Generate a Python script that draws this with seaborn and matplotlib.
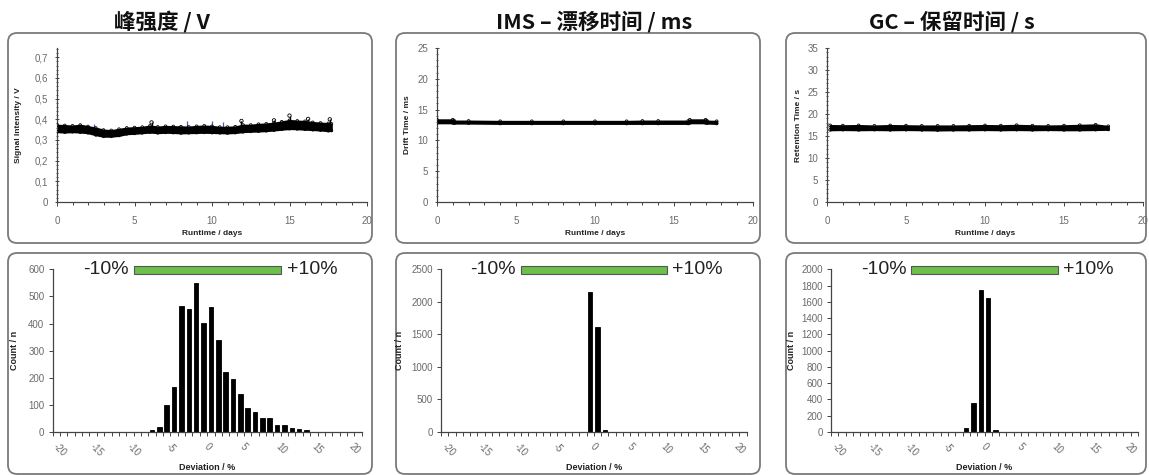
import matplotlib
matplotlib.use("Agg")
import matplotlib.pyplot as plt
import matplotlib.transforms as mtransforms
from matplotlib.patches import FancyBboxPatch, Rectangle
from matplotlib.ticker import MultipleLocator, FixedLocator, FuncFormatter
import seaborn as sns
import pandas as pd

# ---------------------------------------------------------------- data
titles = ["峰强度 / V", "IMS – 漂移时间 / ms", "GC – 保留时间 / s"]
runtime_ylabels = ["Signal Intensity / V", "Drift Time / ms", "Retention Time / s"]
runtime_xlabel = "Runtime / days"
deviation_xlabel = "Deviation / %"
count_ylabel = "Count / n"

# peak intensity, lower / upper edge of the scatter band over runtime
signal_days = [0.0, 0.5, 1.0, 1.5, 2.0, 2.5, 3.0, 3.5, 4.0, 4.5, 5.0, 5.5,
               6.0, 6.5, 7.0, 7.5, 8.0, 8.5, 9.0, 9.5, 10.0, 10.5, 11.0,
               11.5, 12.0, 12.5, 13.0, 13.5, 14.0, 14.5, 15.0, 15.5, 16.0,
               16.5, 17.0, 17.5, 17.7]
signal_low = [0.340, 0.338, 0.340, 0.338, 0.335, 0.325, 0.318, 0.318, 0.322,
              0.330, 0.332, 0.335, 0.338, 0.335, 0.337, 0.336, 0.334, 0.335,
              0.336, 0.337, 0.336, 0.335, 0.334, 0.336, 0.340, 0.342, 0.343,
              0.345, 0.348, 0.352, 0.355, 0.354, 0.352, 0.350, 0.348, 0.345,
              0.346]
signal_high = [0.372, 0.370, 0.368, 0.372, 0.365, 0.358, 0.348, 0.346, 0.352,
               0.358, 0.360, 0.362, 0.368, 0.363, 0.366, 0.365, 0.364, 0.363,
               0.366, 0.368, 0.366, 0.362, 0.362, 0.364, 0.372, 0.372, 0.376,
               0.378, 0.382, 0.388, 0.395, 0.392, 0.390, 0.385, 0.382, 0.380,
               0.378]
signal_peak_days = [6.1, 11.9, 14.0, 15.0, 16.2, 17.6]
signal_peak_vals = [0.385, 0.392, 0.395, 0.418, 0.402, 0.400]
signal_err_days = [2.4, 8.4, 10.0, 10.7, 11.9]
signal_err_tops = [0.378, 0.392, 0.392, 0.386, 0.390]

# drift time band
drift_days = [0.0, 1.0, 1.1, 2.0, 4.0, 6.0, 8.0, 10.0, 12.0, 13.0, 14.0,
              15.9, 16.0, 17.0, 17.1, 17.7]
drift_low = [12.85, 12.85, 12.80, 12.80, 12.75, 12.75, 12.75, 12.75, 12.75,
             12.75, 12.75, 12.75, 12.85, 12.85, 12.80, 12.75]
drift_high = [13.35, 13.35, 13.15, 13.15, 13.10, 13.10, 13.10, 13.10, 13.10,
              13.15, 13.15, 13.15, 13.35, 13.35, 13.15, 13.10]

# retention time band
retention_days = [0.2, 1.0, 2.0, 3.0, 4.0, 5.0, 6.0, 7.0, 8.0, 9.0, 10.0,
                  11.0, 12.0, 13.0, 14.0, 15.0, 16.0, 17.0, 17.8]
retention_low = [16.40, 16.45, 16.40, 16.45, 16.40, 16.45, 16.40, 16.35,
                 16.40, 16.40, 16.45, 16.40, 16.45, 16.40, 16.45, 16.40,
                 16.40, 16.45, 16.50]
retention_high = [17.40, 17.35, 17.40, 17.30, 17.40, 17.35, 17.30, 17.30,
                  17.30, 17.35, 17.40, 17.35, 17.45, 17.35, 17.30, 17.35,
                  17.45, 17.55, 17.20]

# deviation histograms (bin centre in %, count)
dev_signal = [-7.5, -6.5, -5.5, -4.5, -3.5, -2.5, -1.5, -0.5, 0.5, 1.5, 2.5,
              3.5, 4.5, 5.5, 6.5, 7.5, 8.5, 9.5, 10.5, 11.5, 12.5, 13.5]
cnt_signal = [6, 17, 100, 166, 465, 452, 550, 402, 462, 340, 222, 196, 140,
              90, 75, 50, 50, 25, 25, 15, 10, 7]
dev_drift = [-0.5, 0.5, 1.5]
cnt_drift = [2150, 1610, 30]
dev_retention = [-2.5, -1.5, -0.5, 0.5, 1.5]
cnt_retention = [55, 360, 1740, 1650, 28]

runtime_ylim = [0.745, 25, 35]
runtime_ystep = [0.1, 5, 5]
runtime_yminor = [0.02, 1, 1]
count_ylim = [600, 2500, 2000]
count_ystep = [100, 500, 200]
tolerance = (-10, 10)

# ---------------------------------------------------------------- style
sns.set_theme(style="ticks")
plt.rcParams["font.family"] = ["Liberation Sans", "DejaVu Sans"]
TICK_GREY = "#6a6a6a"
AXIS_COL = "#444444"

W, H = 1149, 475
fig = plt.figure(figsize=(W / 100, H / 100), dpi=100)


def px_axes(left, right, top, bottom):
    return fig.add_axes([left / W, 1 - bottom / H, (right - left) / W, (bottom - top) / H])


# rounded frames around each panel
frames_x = [(8, 372), (396, 760), (786, 1146)]
frames_y = [(33, 243), (253, 474)]
for (fx0, fx1) in frames_x:
    for (fy0, fy1) in frames_y:
        box = FancyBboxPatch((fx0, H - fy1), fx1 - fx0, fy1 - fy0,
                             boxstyle="round,pad=0,rounding_size=9",
                             transform=mtransforms.IdentityTransform(),
                             facecolor="white", edgecolor="#7a7a7a", lw=1.3,
                             zorder=0)
        fig.add_artist(box)

# column titles
title_x = [162, 594, 952]
for tx, t in zip(title_x, titles):
    fig.text(tx / W, 1 - 22 / H, t, ha="center", va="center", fontsize=15.5,
             fontweight="bold", family=["Noto Sans CJK SC", "DejaVu Sans"],
             color="#111111")


def style_axes(ax):
    sns.despine(ax=ax)
    for s in ("left", "bottom"):
        ax.spines[s].set_color(AXIS_COL)
        ax.spines[s].set_linewidth(0.9)
    ax.set_facecolor("none")
    ax.tick_params(colors=AXIS_COL, labelcolor=TICK_GREY, labelsize=7,
                   width=0.7)
    ax.grid(False)


# ---------------------------------------------------------------- runtime panels
top_pos = [(57, 367), (437, 753), (827, 1143)]
top_ylab_x = [-0.113, -0.083, -0.079]
bands = [(signal_days, signal_low, signal_high),
         (drift_days, drift_low, drift_high),
         (retention_days, retention_low, retention_high)]

for i in range(3):
    l, r = top_pos[i]
    ax = px_axes(l, r, 48, 202)
    style_axes(ax)
    days, low, high = bands[i]
    ax.fill_between(days, low, high, color="black", lw=1.4, zorder=2)
    band = pd.DataFrame({"day": list(days) * 2, "value": list(low) + list(high)})
    sns.scatterplot(data=band, x="day", y="value", ax=ax, marker="o", s=4,
                    facecolor="none", edgecolor="black", linewidth=0.6,
                    zorder=3)
    if i == 0:
        peaks = pd.DataFrame({"day": signal_peak_days, "value": signal_peak_vals})
        ax.vlines(signal_peak_days, 0.36, signal_peak_vals, color="black",
                  lw=1.0, zorder=3)
        sns.scatterplot(data=peaks, x="day", y="value", ax=ax, marker="o",
                        s=6, facecolor="none", edgecolor="black",
                        linewidth=0.6, zorder=3)
        ax.vlines(signal_err_days, 0.36, signal_err_tops, color="#4a5aa8",
                  lw=0.9, zorder=1)
    ax.set_xlim(0, 20)
    ax.set_ylim(0, runtime_ylim[i])
    ax.xaxis.set_major_locator(MultipleLocator(5))
    ax.xaxis.set_minor_locator(MultipleLocator(1))
    ax.yaxis.set_major_locator(MultipleLocator(runtime_ystep[i]))
    ax.yaxis.set_minor_locator(MultipleLocator(runtime_yminor[i]))
    if i == 0:
        ax.yaxis.set_major_formatter(FuncFormatter(
            lambda v, p: "0" if abs(v) < 1e-9 else f"{v:.1f}".replace(".", ",")))
    ax.tick_params(axis="x", which="major", direction="out", length=3, pad=7)
    ax.tick_params(axis="x", which="minor", direction="out", length=2,
                   color=AXIS_COL, width=0.7)
    ax.tick_params(axis="y", which="major", direction="inout", length=3, pad=5)
    ax.tick_params(axis="y", which="minor", direction="inout", length=2,
                   color=AXIS_COL, width=0.6)
    ax.set_xlabel(runtime_xlabel, fontsize=6, fontweight="bold", color="#222222")
    ax.set_ylabel(runtime_ylabels[i], fontsize=6, fontweight="bold", color="#222222")
    ax.xaxis.set_label_coords(0.5, -0.182)
    ax.yaxis.set_label_coords(top_ylab_x[i], 0.5)

# ---------------------------------------------------------------- histogram panels
bot_pos = [(52.7, 361.7), (441, 746.7), (831, 1138)]
bot_ylab_x = [-0.109, -0.121, -0.115]
hists = [(dev_signal, cnt_signal), (dev_drift, cnt_drift),
         (dev_retention, cnt_retention)]

for i in range(3):
    l, r = bot_pos[i]
    ax = px_axes(l, r, 269.3, 432)
    style_axes(ax)
    dev, cnt = hists[i]
    df = pd.DataFrame({"deviation": dev, "count": cnt})
    sns.barplot(data=df, x="deviation", y="count", ax=ax, native_scale=True,
                color="black", saturation=1, width=0.62, errorbar=None,
                edgecolor="black", linewidth=0.6, zorder=2)
    ax.set_xlim(-21, 21)
    ax.set_ylim(0, count_ylim[i])
    ax.xaxis.set_major_locator(FixedLocator(range(-20, 21, 5)))
    ax.xaxis.set_minor_locator(FixedLocator(range(-21, 22)))
    ax.yaxis.set_major_locator(MultipleLocator(count_ystep[i]))
    ax.xaxis.set_major_formatter(FuncFormatter(lambda v, p: f"{v:.0f}"))
    ax.tick_params(axis="x", which="both", direction="out", length=3,
                   color=AXIS_COL, width=0.7)
    ax.tick_params(axis="x", which="major", pad=4)
    ax.tick_params(axis="y", which="major", direction="out", length=3, pad=3)
    for lab in ax.get_xticklabels():
        lab.set_rotation(-45)
        lab.set_ha("center")
        lab.set_va("top")
    ax.set_xlabel(deviation_xlabel, fontsize=6.5, fontweight="bold", color="#222222")
    ax.set_ylabel(count_ylabel, fontsize=6.5, fontweight="bold", color="#222222")
    ax.xaxis.set_label_coords(0.5, -0.19)
    ax.yaxis.set_label_coords(bot_ylab_x[i], 0.5)

    # tolerance band marker above the histogram
    trans = mtransforms.blended_transform_factory(ax.transData, ax.transAxes)
    ax.add_patch(Rectangle((tolerance[0], 0.972), tolerance[1] - tolerance[0],
                           0.05, transform=trans, facecolor="#6dbf4b",
                           edgecolor="#555555", lw=0.8, clip_on=False,
                           zorder=4))
    ax.text(tolerance[0] - 0.7, 0.997, f"{tolerance[0]}%", transform=trans,
            ha="right", va="center", fontsize=14, color="#222222")
    ax.text(tolerance[1] + 0.8, 0.997, f"+{tolerance[1]}%", transform=trans,
            ha="left", va="center", fontsize=14, color="#222222")

fig.savefig("out.png", dpi=100)
